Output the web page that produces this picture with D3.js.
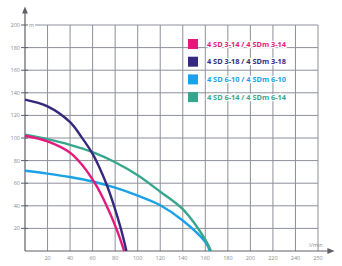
<!DOCTYPE html>
<html>
<head>
<meta charset="utf-8">
<script src="https://cdn.jsdelivr.net/npm/d3@7"></script>
<style>
  body { margin: 0; background: #fff; }
  text { font-family: "Open Sans", "Noto Sans", sans-serif; }
</style>
</head>
<body>
<div id="chart"></div>
<script>
// pump curves: flow (l/min) vs head (m)
const seriesNames = ["4 SD 3-14 / 4 SDm 3-14", "4 SD 3-18 / 4 SDm 3-18", "4 SD 6-10 / 4 SDm 6-10", "4 SD 6-14 / 4 SDm 6-14"];
const seriesColors = ["#e5197c", "#35297e", "#1ba2e6", "#38a68c"];

const pinkFlow = [0, 20, 40, 50, 62, 72, 81, 88];
const pinkHead = [102, 97, 87, 77, 60, 41, 20, 0];
const purpleFlow = [0, 20, 40, 50, 60, 66, 72, 79, 85, 90];
const purpleHead = [134, 128, 114, 101, 86, 74, 60, 40, 20, 0];
const blueFlow = [0, 20, 40, 60, 80, 100, 120, 140, 160, 164];
const blueHead = [71, 68.5, 65.5, 61.5, 56, 49, 40.5, 27, 8, 0];
const tealFlow = [0, 20, 40, 60, 80, 100, 120, 140, 160, 165];
const tealHead = [103, 99, 94, 87.5, 78.5, 67, 52.5, 37, 10, 0];

const xTicks = [20, 40, 60, 80, 100, 120, 140, 160, 180, 200, 220, 240, 260];
const xTickLabels = ["20", "40", "60", "80", "100", "120", "140", "160", "180", "200", "220", "240", "250"];
const yTicks = [20, 40, 60, 80, 100, 120, 140, 160, 180, 200];

const width = 342, height = 266;
const plotLeft = 25, plotRight = 318, plotTop = 25, plotBottom = 251;

const svg = d3.select("#chart").append("svg")
    .attr("width", width)
    .attr("height", height);

const x = d3.scaleLinear().domain([0, 260]).range([plotLeft, plotRight]);
const y = d3.scaleLinear().domain([0, 200]).range([plotBottom, plotTop]);

const gridColor = "#8d909a";
const axisColor = "#5f6068";
const labelColor = "#8a8a8a";

// grid
svg.append("g").selectAll("line")
    .data(xTicks).enter().append("line")
    .attr("x1", d => x(d)).attr("x2", d => x(d))
    .attr("y1", y(0)).attr("y2", y(200))
    .attr("stroke", gridColor).attr("stroke-width", 1);

svg.append("g").selectAll("line")
    .data(yTicks).enter().append("line")
    .attr("x1", d => d === 200 ? x(0) + 10 : x(0)).attr("x2", x(260))
    .attr("y1", d => y(d)).attr("y2", d => y(d))
    .attr("stroke", gridColor).attr("stroke-width", 1);

// axes with arrows
svg.append("defs").append("marker")
    .attr("id", "arrow")
    .attr("viewBox", "0 0 10 10")
    .attr("refX", 5).attr("refY", 5)
    .attr("markerWidth", 6).attr("markerHeight", 6)
    .attr("orient", "auto")
    .append("path")
    .attr("d", "M0,1 L10,5 L0,9 z")
    .attr("fill", axisColor);

svg.append("line")
    .attr("x1", x(0)).attr("x2", x(0))
    .attr("y1", y(0)).attr("y2", 10)
    .attr("stroke", axisColor).attr("stroke-width", 1.2)
    .attr("marker-end", "url(#arrow)");

svg.append("line")
    .attr("x1", x(0)).attr("x2", 331)
    .attr("y1", y(0)).attr("y2", y(0))
    .attr("stroke", axisColor).attr("stroke-width", 1.2)
    .attr("marker-end", "url(#arrow)");

// y ticks and labels
svg.append("g").selectAll("line")
    .data(yTicks).enter().append("line")
    .attr("x1", x(0) - 4).attr("x2", x(0) + 3)
    .attr("y1", d => y(d)).attr("y2", d => y(d))
    .attr("stroke", axisColor).attr("stroke-width", 1);

svg.append("g").selectAll("text")
    .data(yTicks).enter().append("text")
    .attr("x", x(0) - 5)
    .attr("y", d => y(d) + 2)
    .attr("text-anchor", "end")
    .attr("font-size", 5.5)
    .attr("fill", labelColor)
    .text(d => d);

svg.append("text")
    .attr("x", x(0) + 4).attr("y", y(200) + 2)
    .attr("font-size", 5.5).attr("fill", labelColor)
    .text("m");

// x labels
svg.append("g").selectAll("text")
    .data(xTicks).enter().append("text")
    .attr("x", d => x(d))
    .attr("y", y(0) + 9)
    .attr("text-anchor", "middle")
    .attr("font-size", 5.5)
    .attr("fill", labelColor)
    .text((d, i) => xTickLabels[i]);

svg.append("text")
    .attr("x", 316).attr("y", y(0) - 4)
    .attr("text-anchor", "middle")
    .attr("font-size", 5.5).attr("fill", labelColor)
    .text("l/min");

// curves
const line = d3.line()
    .x(d => x(d[0]))
    .y(d => y(d[1]))
    .curve(d3.curveCatmullRom.alpha(0.5));

const curves = [
    { flow: blueFlow, head: blueHead, color: seriesColors[2] },
    { flow: tealFlow, head: tealHead, color: seriesColors[3] },
    { flow: pinkFlow, head: pinkHead, color: seriesColors[0] },
    { flow: purpleFlow, head: purpleHead, color: seriesColors[1] }
];

svg.append("g").selectAll("path")
    .data(curves).enter().append("path")
    .attr("d", c => line(c.flow.map((f, i) => [f, c.head[i]])))
    .attr("fill", "none")
    .attr("stroke", c => c.color)
    .attr("stroke-width", 2.4);

// legend
const legend = svg.append("g").selectAll("g")
    .data(seriesNames).enter().append("g")
    .attr("transform", (d, i) => "translate(188," + (44 + i * 17.7) + ")");

legend.append("rect")
    .attr("x", 0).attr("y", -5)
    .attr("width", 10).attr("height", 10)
    .attr("fill", (d, i) => seriesColors[i]);

legend.append("text")
    .attr("x", 19).attr("y", 2.5)
    .attr("font-size", 7)
    .attr("font-weight", "bold")
    .attr("fill", (d, i) => seriesColors[i])
    .attr("stroke", "#fff").attr("stroke-width", 2.5)
    .attr("paint-order", "stroke")
    .attr("textLength", 79)
    .attr("lengthAdjust", "spacingAndGlyphs")
    .text(d => d);
</script>
</body>
</html>
